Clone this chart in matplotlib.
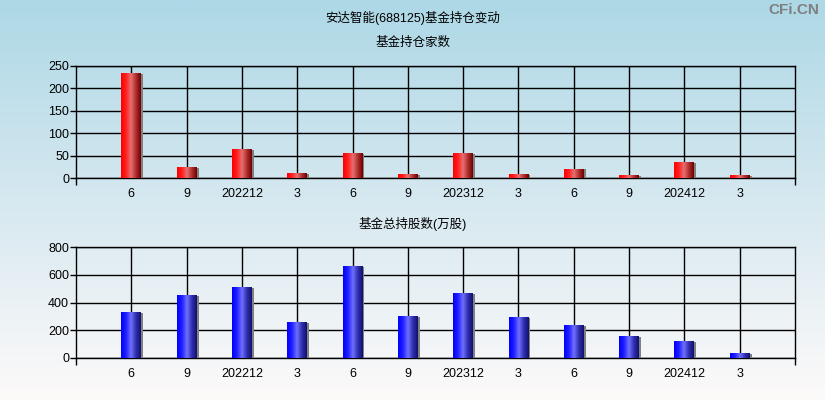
import numpy as np
import matplotlib
matplotlib.use('Agg')
import matplotlib.pyplot as plt
from matplotlib.colors import LinearSegmentedColormap
from matplotlib.patches import Rectangle

plt.rcParams['font.family'] = ['Liberation Sans', 'Noto Sans CJK SC', 'DejaVu Sans']

# data
quarters = ['6', '9', '202212', '3', '6', '9', '202312', '3', '6', '9', '202412', '3']
fund_count = [233, 23, 63, 10, 54, 7, 54, 7, 19, 5, 34, 5]
fund_shares = [327, 449, 507, 255, 658, 298, 464, 291, 233, 154, 118, 31]

title = '安达智能(688125)基金持仓变动'
top_title = '基金持仓家数'
bottom_title = '基金总持股数(万股)'

red_cmap = LinearSegmentedColormap.from_list(
    'red_bar', ['#ff0000', '#ff2020', '#e87070', '#b03030', '#700000'])
blue_cmap = LinearSegmentedColormap.from_list(
    'blue_bar', ['#0000ff', '#2020ff', '#7070ff', '#3030b0', '#101070'])

fig = plt.figure(figsize=(8.25, 4.0), dpi=100)

# background gradient, light blue at top to almost white at bottom
bg = fig.add_axes([0, 0, 1, 1])
bg.set_axis_off()
grad = np.linspace(0, 1, 256).reshape(-1, 1)
bg_cmap = LinearSegmentedColormap.from_list(
    'bg', ['#add8e6', '#d6e8f0', '#fdfafa'])
bg.imshow(grad, aspect='auto', cmap=bg_cmap, extent=[0, 1, 0, 1], origin='upper')
bg.set_xlim(0, 1)
bg.set_ylim(0, 1)

fig.text(0.5, 1 - 18 / 400, title, ha='center', va='center', fontsize=9)
fig.text(0.5, 1 - 43 / 400, top_title, ha='center', va='center', fontsize=9)
fig.text(0.5, 1 - 224 / 400, bottom_title, ha='center', va='center', fontsize=9)
fig.text(1 - 6 / 825, 1 - 10 / 400, 'CFi.CN', ha='right', va='center',
         fontsize=11, fontweight='bold', color='#808080')


def draw_panel(rect, values, ymax, ystep, cmap):
    ax = fig.add_axes(rect)
    ax.patch.set_alpha(0)
    n = len(values)
    xs = np.arange(1, n + 1)
    width = 0.36
    shadow = 0.04
    grad_row = np.linspace(0, 1, 64).reshape(1, -1)
    for x, v in zip(xs, values):
        ax.add_patch(Rectangle((x + width / 2 - 0.005, 0), shadow, v,
                               facecolor='#808080', edgecolor='none', zorder=3))
        ax.imshow(grad_row, cmap=cmap, aspect='auto', zorder=4,
                  extent=[x - width / 2, x + width / 2, 0, v])
    ax.set_xlim(0, n + 1)
    ax.set_ylim(0, ymax)
    ax.set_xticks(xs)
    ax.set_xticklabels(quarters, fontsize=9)
    ax.set_xticks([0, n + 1], minor=True)
    ax.tick_params(axis='x', which='major', length=0, pad=7)
    ax.tick_params(axis='x', which='minor', length=5, width=1, direction='out')
    ax.set_yticks(np.arange(0, ymax + 1, ystep))
    ax.tick_params(axis='y', length=4, width=1, labelsize=9, pad=1)
    ax.grid(True, color='black', linewidth=1, zorder=1)
    ax.set_axisbelow(True)
    for s in ax.spines.values():
        s.set_color('black')
        s.set_linewidth(1)
    return ax


ax_top = draw_panel([76 / 825, 1 - 178 / 400, 719 / 825, 112 / 400],
                    fund_count, 250, 50, red_cmap)
ax_bot = draw_panel([76 / 825, 1 - 358 / 400, 719 / 825, 111 / 400],
                    fund_shares, 800, 200, blue_cmap)

fig.savefig('out.png', dpi=100)
plt.close(fig)
